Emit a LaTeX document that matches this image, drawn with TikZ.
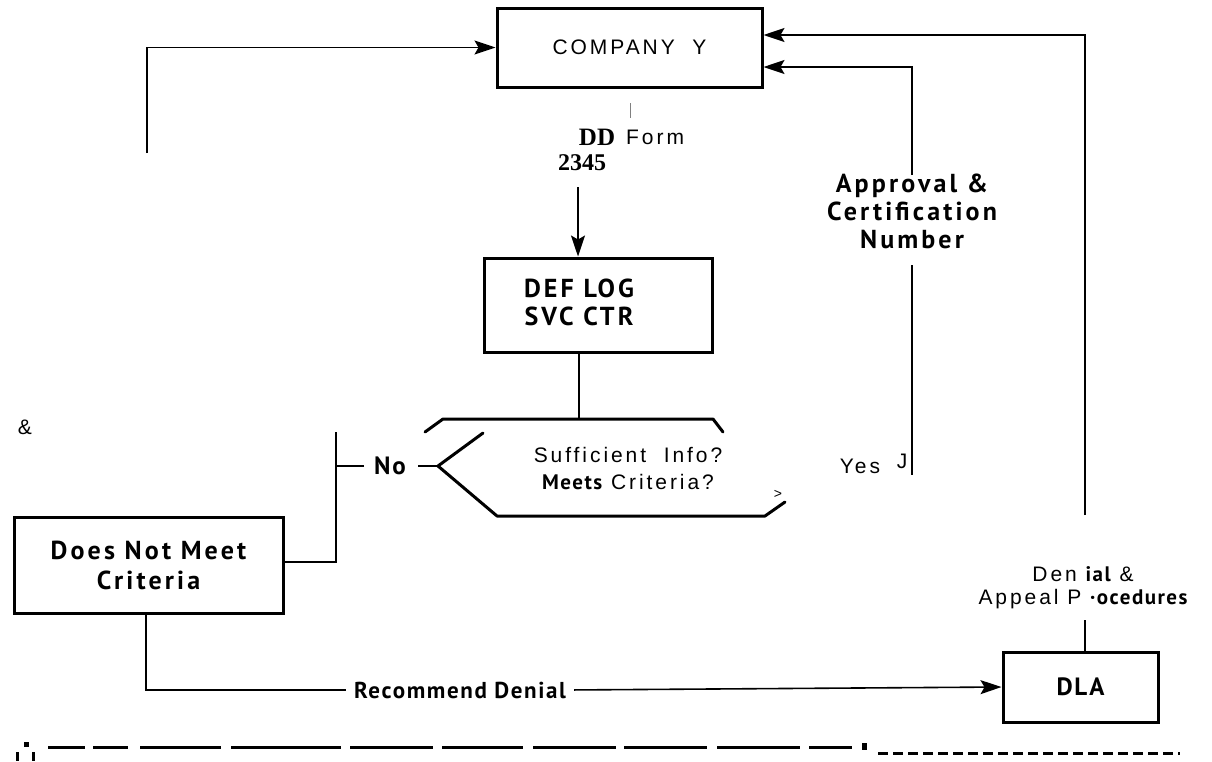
\documentclass[tikz,border=0pt]{standalone}
\usepackage{fontspec}
\usetikzlibrary{arrows.meta}
\setmainfont{Liberation Sans}
\newfontfamily\rg[LetterSpace=14]{Liberation Sans}
\newfontfamily\bdf[LetterSpace=7]{PT Sans}
\newfontfamily\bdw[LetterSpace=12]{PT Sans}
\newfontfamily\srf{Liberation Serif}
\tikzset{
  boxnode/.style={draw, line width=3pt, inner sep=0pt, align=center},
  conn/.style={line width=1.6pt},
  tip/.style={-{Stealth[length=21pt,width=14pt,inset=4pt]}},
  hexline/.style={line width=3pt, line cap=round, line join=round},
  lbl/.style={inner sep=0pt, align=center},
  bfont/.style={font=\bdf\bfseries\fontsize{25}{28}\selectfont},
  wfont/.style={font=\bdw\bfseries\fontsize{26}{28}\selectfont},
  rfont/.style={font=\rg\fontsize{21}{27}\selectfont},
  dashseg/.style={line width=3pt},
  finedash/.style={line width=3pt, dash pattern=on 10pt off 5pt},
}
\begin{document}
\begin{tikzpicture}[x=1pt,y=-1pt]
\useasboundingbox (0,0) rectangle (1212,761);

% boxes
\node[boxnode, minimum width=265pt, minimum height=79pt, rfont] (company) at (629.5,47.5) {COMPANY\ \ Y};
\node[boxnode, minimum width=228pt, minimum height=94pt] (deflog) at (598,305) {};
\node[lbl, wfont] (deflogtxt) at (579,302) {DEF LOG\\SVC CTR};
\node[boxnode, minimum width=269pt, minimum height=96pt, font=\bdw\bfseries\fontsize{26}{30}\selectfont] (dnm) at (148.5,565) {Does Not Meet\\Criteria};
\node[boxnode, minimum width=155pt, minimum height=70pt, bfont] (dla) at (1080.5,687) {DLA};

% decision shape
\coordinate (hextop) at (579,419);
\coordinate (hexleft) at (438,466);
\draw[hexline] (425,432) -- (443,419) -- (713,419) -- (723,432);
\draw[hexline] (483,433) -- (hexleft) -- (497,516) -- (765,516) -- (785,502);
\node[lbl, rfont] (question) at (628,469) {Sufficient\ \ Info?\\{\bdf\bfseries Meets} Criteria?};
\node[lbl, font=\fontsize{14}{14}\selectfont] (gt) at (778,494) {>};

% DD Form 2345
\coordinate (tick1) at (630,103);
\coordinate (tick2) at (630,118);
\draw[line width=1pt, gray] (tick1) -- (tick2);
\node[lbl, font=\srf\bfseries\fontsize{25}{25}\selectfont] (dd) at (597,137) {DD};
\node[lbl, rfont, anchor=west] (form) at (626,137) {Form};
\node[lbl, font=\srf\bfseries\fontsize{24}{24}\selectfont] (num) at (582,163) {2345};
\coordinate (ddstart) at (578,187);
\draw[conn, tip] (ddstart) -- (deflog.north -| ddstart);

% DEF LOG to decision
\draw[conn] (deflog.south -| hextop) -- (hextop);

% No branch
\node[lbl, bfont] (no) at (390,466) {No};
\coordinate (nojoin) at (336,466);
\coordinate (notop) at (336,432);
\draw[conn, shorten >=12pt] (hexleft) -- (no.east);
\draw[conn, shorten <=10pt] (no.west) -- (nojoin);
\draw[conn] (notop) |- (dnm.east |- 0,562);

% left loop to company
\coordinate (leftend) at (147,153);
\draw[conn, tip] (leftend) |- (company.west);

% recommend denial
\node[lbl, font=\bdf\bfseries\fontsize{23}{28}\selectfont] (rec) at (460,690) {Recommend Denial};
\draw[conn, shorten >=8pt] (dnm.south -| 146,0) |- (rec.west);
\draw[conn, tip, shorten <=8pt] (rec.east) -- (dla.west);

% approval
\coordinate (ap1) at (912,175);
\coordinate (ap2) at (912,265);
\coordinate (ap3) at (912,475);
\node[lbl, wfont] (appr) at (912,211) {Approval \&\\Certification\\Number};
\draw[conn, tip] (ap1) |- ([yshift=-19.5pt]company.east);
\draw[conn] (ap2) -- (ap3);
\node[lbl, rfont] (yes) at (860,466) {Yes};
\node[lbl, rfont] (jj) at (902,461) {J};

% denial procedures
\coordinate (dn1) at (1085,515);
\coordinate (dn2) at (1085,620);
\node[lbl, font=\rg\fontsize{21}{23}\selectfont] (denial) at (1083,588) {Den {\bdf\bfseries ial} \&\\Appeal P {\bdf\bfseries ·ocedures}};
\draw[conn, tip] (dn1) |- ([yshift=12.5pt]company.east);
\draw[conn] (dn2) -- (dla.north -| dn2);

% stray ampersand
\node[lbl, rfont] (amp) at (25,427) {\&};

% bottom dashed rule
\fill (24,742) rectangle (29,747);
\fill (16,752) rectangle (19,761);
\fill (32,752) rectangle (35,761);
\foreach \a/\b in {48/85,93/128,140/221,231/341,350/433,442/523,533/616,624/707,717/800,809/852}
  \draw[dashseg] (\a,747) -- (\b,747);
\fill (862,743) rectangle (867,750);
\draw[finedash] (878,753) -- (1180,753);
\end{tikzpicture}
\end{document}
